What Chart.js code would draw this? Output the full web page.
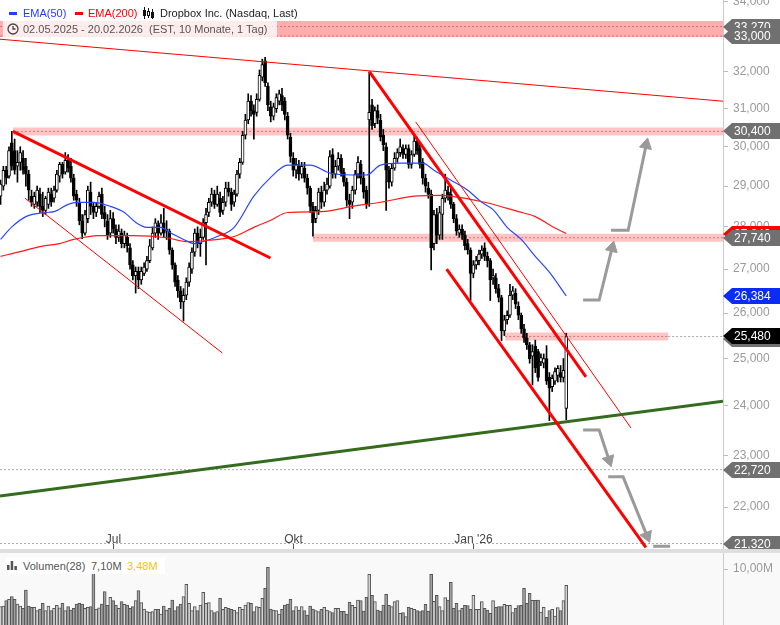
<!DOCTYPE html>
<html>
<head>
<meta charset="utf-8">
<script src="https://cdn.jsdelivr.net/npm/chart.js@4.4.1/dist/chart.umd.min.js"></script>
<style>
  html, body { margin: 0; padding: 0; background: #fff; }
  #wrap { position: relative; width: 780px; height: 625px; overflow: hidden; font-family: "Liberation Sans", Arial, sans-serif; }
  canvas { position: absolute; left: 0; }
  #main { top: 0; }
  #sep { position: absolute; left: 0; top: 549px; width: 780px; height: 4px; background: #dedede; }
  #vol { top: 553px; background: #f9f9f9; }
  .t { position: absolute; font-size: 11px; line-height: 14px; white-space: pre; }
  .dash { position: absolute; height: 3px; width: 8px; }
  #box2 { position: absolute; left: 3px; top: 21px; width: 274px; height: 16px; background: rgba(255,255,255,0.78); }
  #vbox { position: absolute; left: 5px; top: 557px; width: 160px; height: 17px; background: #fff; }
</style>
</head>
<body>
<div id="wrap">
  <canvas id="main" width="780" height="549"></canvas>
  <div id="sep"></div>
  <canvas id="vol" width="780" height="72"></canvas>

  <span class="dash" style="left:9px; top:12px; background:#1f3cff"></span>
  <span class="t" style="left:23px; top:6px; color:#1f3cff">EMA(50)</span>
  <span class="dash" style="left:75px; top:12px; background:#ff0000"></span>
  <span class="t" style="left:88px; top:6px; color:#ff0000">EMA(200)</span>
  <svg style="position:absolute; left:143px; top:7px" width="12" height="12" viewBox="0 0 12 12">
    <g stroke="#111" stroke-width="1" fill="#fff">
      <line x1="1.5" y1="0" x2="1.5" y2="12"/><rect x="0.5" y="3.5" width="2" height="5" fill="#111"/>
      <line x1="5.5" y1="1" x2="5.5" y2="11"/><rect x="4.5" y="4.5" width="2" height="4"/>
      <line x1="9.5" y1="2" x2="9.5" y2="12"/><rect x="8.5" y="5.5" width="2" height="5" fill="#111"/>
    </g>
  </svg>
  <span class="t" style="left:160px; top:6px; color:#222">Dropbox Inc. (Nasdaq, Last)</span>

  <div id="box2"></div>
  <svg style="position:absolute; left:7px; top:23px" width="12" height="12" viewBox="0 0 12 12">
    <circle cx="6" cy="6" r="5" fill="none" stroke="#444" stroke-width="1.3"/>
    <path d="M6 3 V6 H8.5" fill="none" stroke="#444" stroke-width="1.3"/>
  </svg>
  <span class="t" style="left:23px; top:22px; color:#555">02.05.2025 - 20.02.2026  (EST, 10 Monate, 1 Tag)</span>

  <div id="vbox"></div>
  <svg style="position:absolute; left:7px; top:560px" width="12" height="10" viewBox="0 0 12 10">
    <rect x="0" y="5" width="2.5" height="5" fill="#555"/>
    <rect x="3.7" y="1" width="2.5" height="9" fill="#555"/>
    <rect x="7.4" y="6" width="2.5" height="4" fill="#555"/>
  </svg>
  <span class="t" style="left:23px; top:559px; color:#555">Volumen(28)</span>
  <span class="t" style="left:91px; top:559px; color:#555">7,10M</span>
  <span class="t" style="left:127px; top:559px; color:#f5c400">3,48M</span>
</div>

<script>
// daily candles 02.05.2025 .. 20.02.2026 (USD)
const openP = [
  28.75, 29.0, 29.4, 29.25, 30.1, 29.9, 29.5, 29.6, 29.7, 29.5,
  29.3, 28.75, 28.55, 28.6, 28.8, 28.5, 28.4, 28.55, 28.8, 28.7,
  28.9, 29.25, 29.55, 29.35, 29.65, 29.5, 29.2, 28.8, 28.6, 28.15,
  27.85, 28.2, 28.85, 28.5, 28.35, 28.5, 28.8, 28.35, 28.15, 27.85,
  28.2, 27.95, 27.75, 27.85, 27.6, 27.75, 27.5, 27.1, 26.85, 26.95,
  26.75, 26.9, 27.0, 27.2, 27.5, 27.85, 28.05, 27.85, 28.1, 27.9,
  27.9, 27.45, 27.1, 26.75, 26.5, 26.25, 26.4, 26.7, 27.0, 27.4,
  27.85, 27.6, 27.75, 28.1, 28.35, 28.6, 28.8, 28.55, 28.7, 28.4,
  28.6, 28.95, 28.85, 28.6, 28.8, 29.3, 29.6, 30.3, 30.7, 31.2,
  30.95, 30.9, 31.25, 31.85, 32.3, 31.6, 31.05, 30.8, 31.0, 31.2,
  31.35, 31.2, 30.8, 30.25, 29.7, 29.4, 29.5, 29.3, 29.45, 29.2,
  28.95, 28.5, 28.2, 28.4, 28.85, 28.6, 28.9, 29.0, 29.8, 29.3,
  29.5, 29.7, 29.35, 29.1, 28.65, 28.6, 28.9, 29.3, 29.55, 29.2,
  28.9, 30.7, 31.1, 30.6, 30.95, 30.7, 30.3, 30.0, 29.4, 29.1,
  29.45, 29.7, 29.85, 29.95, 29.8, 29.95, 29.55, 29.8, 30.15, 29.95,
  29.6, 29.2, 28.95, 28.8, 27.6, 28.3, 27.8, 28.3, 28.7, 28.85,
  28.8, 28.55, 28.2, 27.85, 27.95, 27.8, 27.6, 27.45, 26.9, 27.1,
  27.2, 27.35, 27.5, 27.3, 27.2, 26.8, 26.8, 26.55, 26.35, 25.6,
  25.85, 25.95, 26.4, 26.45, 26.15, 25.95, 25.65, 25.45, 25.3, 25.05,
  25.27, 25.15, 24.93, 24.9, 25.0, 24.6, 24.4, 24.52, 24.64, 24.7,
  24.6, 23.95
];
const highP = [
  29.15, 29.5, 29.5, 30.0, 30.40, 30.2, 29.9, 30.0, 29.9, 29.7,
  29.4, 28.9, 28.85, 29.0, 28.95, 28.85, 28.75, 28.95, 28.95, 29.0,
  29.4, 29.6, 29.6, 29.85, 29.8, 29.7, 29.3, 28.9, 28.7, 28.3,
  28.4, 29.0, 29.1, 28.6, 28.6, 28.85, 28.95, 28.5, 28.3, 28.4,
  28.35, 28.05, 28.05, 27.95, 27.9, 27.85, 27.6, 27.2, 27.05, 27.05,
  27.05, 27.15, 27.3, 27.7, 28.0, 28.2, 28.15, 28.3, 28.45, 28.15,
  27.95, 27.5, 27.15, 26.85, 26.6, 26.55, 26.8, 27.15, 27.5, 27.95,
  28.0, 27.95, 28.2, 28.45, 28.7, 28.95, 28.9, 29.0, 28.85, 28.75,
  29.1, 29.1, 28.95, 28.9, 29.4, 29.7, 30.4, 30.85, 31.4, 31.35,
  31.1, 31.4, 32.05, 32.35, 32.4, 31.7, 31.2, 31.15, 31.4, 31.5,
  31.55, 31.3, 30.9, 30.35, 29.85, 29.7, 29.65, 29.6, 29.6, 29.3,
  29.0, 28.6, 28.5, 28.95, 29.0, 29.1, 29.2, 29.9, 29.95, 29.65,
  29.85, 29.8, 29.45, 29.2, 28.8, 29.0, 29.4, 29.75, 29.65, 29.35,
  29.0, 32.0, 31.25, 31.05, 31.1, 30.85, 30.45, 30.1, 29.5, 29.55,
  29.85, 29.95, 30.2, 30.05, 30.05, 30.05, 29.9, 30.3, 30.25, 30.05,
  29.7, 29.3, 29.1, 28.9, 28.4, 28.45, 28.5, 28.8, 29.3, 29.0,
  28.95, 28.6, 28.3, 28.05, 28.05, 27.9, 27.7, 27.5, 27.2, 27.3,
  27.45, 27.55, 27.62, 27.4, 27.25, 27.0, 26.9, 26.65, 26.4, 25.95,
  26.05, 26.65, 26.6, 26.55, 26.25, 26.0, 25.75, 25.55, 25.35, 25.3,
  25.4, 25.2, 25.1, 25.1, 25.28, 24.7, 24.65, 24.8, 24.85, 24.85,
  25.0, 25.55
];
const lowP = [
  28.55, 28.9, 29.05, 29.2, 29.4, 29.3, 29.1, 29.4, 29.3, 29.0,
  28.65, 28.5, 28.45, 28.5, 28.35, 28.25, 28.3, 28.45, 28.5, 28.6,
  28.85, 29.1, 29.2, 29.3, 29.35, 29.1, 28.65, 28.5, 28.05, 27.72,
  27.8, 28.1, 28.3, 28.2, 28.25, 28.45, 28.2, 28.0, 27.7, 27.75,
  27.85, 27.6, 27.65, 27.5, 27.5, 27.4, 27.0, 26.75, 26.45, 26.55,
  26.65, 26.85, 26.95, 27.15, 27.45, 27.75, 27.7, 27.8, 27.75, 27.7,
  27.35, 27.0, 26.6, 26.35, 26.1, 25.82, 26.3, 26.6, 26.9, 27.3,
  27.5, 27.3, 27.7, 27.1, 28.25, 28.5, 28.45, 28.5, 28.25, 28.3,
  28.5, 28.75, 28.4, 28.5, 28.75, 29.2, 29.55, 30.2, 30.6, 30.8,
  30.2, 30.8, 31.2, 31.75, 31.6, 30.95, 30.65, 30.7, 30.9, 31.1,
  30.95, 30.7, 30.2, 29.6, 29.25, 29.2, 29.15, 29.2, 29.1, 28.8,
  28.35, 27.78, 28.1, 28.3, 28.45, 28.5, 28.8, 28.95, 29.2, 29.2,
  29.4, 29.25, 29.0, 28.5, 28.2, 28.45, 28.8, 29.2, 29.05, 28.7,
  28.45, 28.5, 30.45, 30.5, 30.6, 30.15, 29.9, 28.4, 28.95, 29.0,
  29.4, 29.6, 29.75, 29.7, 29.7, 29.45, 29.45, 29.75, 29.8, 29.45,
  29.05, 28.85, 28.7, 26.98, 27.45, 27.6, 27.7, 27.7, 28.6, 28.65,
  28.45, 28.1, 27.8, 27.75, 27.7, 27.45, 27.35, 26.28, 26.8, 27.0,
  27.1, 27.25, 27.2, 27.05, 26.28, 26.65, 26.45, 26.25, 25.39, 25.5,
  25.75, 25.9, 26.3, 26.1, 25.85, 25.55, 25.35, 25.2, 24.9, 24.44,
  24.7, 24.52, 24.85, 24.8, 24.45, 23.7, 24.3, 24.45, 24.5, 24.5,
  24.5, 23.72
];
const closeP = [
  29.05, 29.4, 29.2, 29.9, 29.5, 29.4, 29.6, 29.85, 29.4, 29.3,
  28.9, 28.6, 28.75, 28.9, 28.5, 28.4, 28.7, 28.85, 28.6, 28.9,
  29.3, 29.55, 29.3, 29.65, 29.45, 29.2, 28.75, 28.65, 28.15, 27.85,
  28.3, 28.9, 28.5, 28.35, 28.5, 28.75, 28.3, 28.2, 27.8, 28.2,
  27.95, 27.75, 27.9, 27.6, 27.8, 27.55, 27.1, 26.85, 26.95, 26.75,
  26.95, 27.05, 27.2, 27.55, 27.85, 28.1, 27.85, 28.1, 27.85, 27.95,
  27.45, 27.1, 26.7, 26.5, 26.25, 26.4, 26.7, 27.05, 27.4, 27.85,
  27.6, 27.75, 28.1, 28.3, 28.6, 28.8, 28.55, 28.8, 28.35, 28.6,
  28.95, 28.85, 28.55, 28.8, 29.3, 29.6, 30.3, 30.7, 31.2, 30.95,
  30.85, 31.25, 31.9, 32.2, 31.7, 31.1, 30.8, 31.05, 31.3, 31.4,
  31.1, 30.85, 30.3, 29.75, 29.4, 29.55, 29.3, 29.5, 29.2, 28.95,
  28.5, 28.1, 28.4, 28.85, 28.6, 28.9, 29.05, 29.75, 29.3, 29.5,
  29.7, 29.35, 29.1, 28.65, 28.55, 28.9, 29.3, 29.6, 29.2, 28.85,
  28.55, 30.9, 30.55, 30.95, 30.75, 30.25, 30.05, 29.4, 29.1, 29.45,
  29.7, 29.85, 30.0, 29.8, 29.95, 29.55, 29.8, 30.15, 29.9, 29.55,
  29.2, 29.0, 28.8, 27.5, 28.3, 27.8, 28.35, 28.7, 28.9, 28.75,
  28.55, 28.2, 27.9, 27.95, 27.8, 27.55, 27.45, 26.9, 27.1, 27.2,
  27.35, 27.45, 27.3, 27.2, 26.75, 26.85, 26.55, 26.35, 25.6, 25.85,
  25.95, 26.4, 26.5, 26.2, 25.95, 25.65, 25.45, 25.3, 25.0, 25.15,
  24.8, 24.6, 25.02, 25.0, 24.52, 24.37, 24.58, 24.72, 24.79, 24.6,
  24.75, 25.48
];
// volume in millions
const volumeM = [
  3.29, 3.40, 4.35, 4.59, 5.07, 4.59, 3.76, 3.40, 2.99, 6.26,
  3.40, 3.17, 3.17, 2.56, 2.87, 3.88, 2.56, 3.40, 2.56, 2.99,
  3.52, 3.05, 3.88, 2.56, 3.29, 2.68, 2.99, 3.76, 3.88, 3.76,
  2.99, 3.17, 3.29, 9.24, 2.87, 3.05, 3.76, 5.96, 3.52, 4.95,
  4.35, 3.58, 2.99, 4.17, 3.70, 3.58, 2.99, 3.29, 4.35, 6.14,
  3.99, 2.87, 2.38, 2.33, 2.38, 2.81, 2.81, 1.97, 3.40, 2.68,
  2.99, 4.47, 2.56, 3.29, 3.76, 5.07, 7.27, 3.88, 2.56, 3.29,
  2.56, 3.58, 5.84, 3.88, 3.99, 2.56, 2.21, 2.38, 4.77, 2.81,
  3.17, 2.99, 2.81, 2.68, 2.21, 3.17, 2.81, 3.58, 3.99, 3.88,
  2.38, 3.29, 3.17, 4.77, 6.56, 10.32, 2.87, 2.68, 2.56, 1.97,
  2.81, 3.58, 3.76, 4.59, 2.56, 3.29, 2.68,
  3.29, 2.56, 1.79, 3.40, 2.87, 2.56, 2.38, 2.81, 3.17, 2.68,
  2.38, 2.21, 2.99, 2.99, 2.44, 2.44, 1.97, 4.11, 3.52, 3.17,
  4.47, 4.35, 2.50, 4.95, 9.06, 5.30, 4.17, 2.68, 2.50, 3.58,
  5.48, 3.52, 3.29, 4.17, 4.35, 2.09, 2.21, 1.49, 3.17, 2.99,
  2.81, 2.56, 2.38, 2.56, 3.70, 2.50, 9.06, 4.23, 5.30, 3.29,
  2.56, 4.89, 4.47, 7.63, 2.99, 3.88, 2.56, 2.99, 3.52, 3.46,
  2.81, 5.30, 2.81, 2.81, 4.17, 2.99, 2.68, 2.09, 4.35, 3.17,
  3.29, 3.29, 3.70, 3.52, 3.52, 2.21, 2.99, 3.46, 3.52, 6.56,
  3.88, 5.66, 4.41, 4.41, 4.47, 2.33, 3.17, 1.37, 2.56, 2.81,
  1.61, 3.11, 2.56, 4.35, 7.10
];

// EMA readings (bar index, value)
const ema50Idx = [0, 4, 9, 16, 19, 24, 27, 33, 39, 44, 48, 52, 57, 60, 65, 69, 72, 77, 83, 90, 96, 102, 110, 117, 125, 130, 135, 142, 150, 154, 160, 166, 171, 175, 180, 185, 190, 195, 201];
const ema50 = [27.70, 28.00, 28.25, 28.35, 28.37, 28.55, 28.60, 28.60, 28.50, 28.35, 28.11, 27.99, 27.99, 27.87, 27.70, 27.60, 27.65, 27.77, 27.99, 28.75, 29.22, 29.53, 29.53, 29.33, 29.28, 29.28, 29.53, 29.58, 29.58, 29.40, 29.15, 28.90, 28.60, 28.42, 27.99, 27.70, 27.30, 26.93, 26.384];
const ema200Idx = [0, 7, 14, 21, 26, 35, 47, 59, 66, 74, 83, 90, 96, 102, 114, 125, 135, 147, 156, 160, 172, 184, 190, 196, 201];
const ema200 = [27.30, 27.41, 27.53, 27.60, 27.70, 27.79, 27.79, 27.74, 27.65, 27.68, 27.77, 27.99, 28.16, 28.35, 28.37, 28.50, 28.60, 28.75, 28.77, 28.75, 28.60, 28.37, 28.25, 28.01, 27.84];

// drawn lines: [x1, price1, x2, price2]
const trendThick = [[4.4, 30.40, 95.9, 27.26], [131.1, 32.0, 208.0, 24.61], [158.5, 27.0, 229.3, 21.25]];
const trendThin = [[8.7, 28.7, 78.8, 25.12], [147.5, 30.65, 224.0, 23.55], [-0.2, 32.91, 256.7, 31.2]];
const supportLine = [-0.2, 22.21, 256.7, 24.10];

// zones: level, from, to
const zoneLevels = [30.40, 27.74, 25.48];
const zoneFrom = [4.4, 111, 179.3];
const zoneTo = [256.7, 256.7, 237.2];
const topZone = [33.27, 33.00];
const grayLevels = [22.72, 21.32];

const arrowPaths = [
  [[207.0, 26.29], [212.7, 26.29], [217.3, 27.50]],
  [[216.9, 27.92], [223.0, 27.92], [229.4, 30.05]],
  [[207.0, 23.51], [212.7, 23.51], [216.2, 22.91]],
  [[215.9, 22.58], [221.2, 22.58], [229.7, 21.46]]
];
const arrowStub = [231.9, 21.27, 237.9, 21.27];

const yTicks = [22, 23, 24, 25, 26, 27, 28, 29, 30, 31, 32, 33, 34];
const tagValues = [33.27, 33.00, 30.40, 27.84, 27.74, 26.384, 25.48, 22.72, 21.32];
const monthIdx = [40, 104, 168];
const monthLabels = ['Jul', 'Okt', "Jan '26"];

const family = '"Liberation Sans", Arial, sans-serif';
const fmt = v => v.toFixed(3).replace('.', ',');
const seg = a => [{ x: a[0], y: a[1] }, { x: a[2], y: a[3] }];
const days = closeP.map((_, i) => i);
const up = days.map(i => closeP[i] >= openP[i]);
const X_MIN = -0.2, X_MAX = 256.7;

function lineDs(data, color, width, order, extra) {
  return Object.assign({ type: 'line', data, borderColor: color, borderWidth: width, pointRadius: 0, tension: 0, order, borderCapStyle: 'butt', fill: false }, extra || {});
}

const datasets = [];
// zones
datasets.push(lineDs(seg([X_MIN, 33.2, X_MAX, 33.2]), 'rgba(255,60,60,0.42)', 16, 30));
zoneLevels.forEach((lv, k) => {
  datasets.push(lineDs(seg([zoneFrom[k], lv, zoneTo[k], lv]), 'rgba(255,60,60,0.3)', 8, 30));
});
topZone.forEach(lv => datasets.push(lineDs(seg([X_MIN, lv, X_MAX, lv]), 'rgba(190,90,90,0.7)', 1, 29, { borderDash: [2, 2] })));
zoneLevels.forEach((lv, k) => datasets.push(lineDs(seg([zoneFrom[k], lv, zoneTo[k], lv]), 'rgba(190,90,90,0.7)', 1, 29, { borderDash: [2, 2] })));
datasets.push(lineDs(seg([zoneTo[2], zoneLevels[2], X_MAX, zoneLevels[2]]), '#aaa', 1, 29, { borderDash: [2, 2] }));
grayLevels.forEach(lv => datasets.push(lineDs(seg([X_MIN, lv, X_MAX, lv]), '#aaa', 1, 29, { borderDash: [2, 2] })));

// candles
datasets.push({
  type: 'bar', data: days.map(i => ({ x: i, y: [lowP[i], highP[i]] })),
  backgroundColor: '#000', barThickness: 1, grouped: false, order: 20
});
datasets.push({
  type: 'bar', data: days.map(i => ({ x: i, y: [openP[i], closeP[i]] })),
  backgroundColor: days.map(i => up[i] ? '#fff' : '#000'),
  borderColor: '#000', borderWidth: 1, borderSkipped: false, minBarLength: 1,
  barThickness: 3, grouped: false, order: 19
});

// EMAs
datasets.push(lineDs(ema200Idx.map((x, k) => ({ x, y: ema200[k] })), '#ff1a1a', 1.2, 10, { cubicInterpolationMode: 'monotone' }));
datasets.push(lineDs(ema50Idx.map((x, k) => ({ x, y: ema50[k] })), '#2846ff', 1.2, 10, { cubicInterpolationMode: 'monotone' }));

// trend lines
trendThin.forEach(t => datasets.push(lineDs(seg(t), '#ff0000', 1, 8)));
trendThick.forEach(t => datasets.push(lineDs(seg(t), '#ff0000', 3, 7)));
datasets.push(lineDs(seg(supportLine), '#356b1c', 3, 7));

// projection arrows
const arrowRotation = ctx => {
  const d = ctx.dataset.data, n = d.length;
  if (ctx.dataIndex !== n - 1) return 0;
  const xs = ctx.chart.scales.x, ys = ctx.chart.scales.y;
  const dx = xs.getPixelForValue(d[n - 1].x) - xs.getPixelForValue(d[n - 2].x);
  const dy = ys.getPixelForValue(d[n - 1].y) - ys.getPixelForValue(d[n - 2].y);
  return Math.atan2(dx, -dy) * 180 / Math.PI;
};
arrowPaths.forEach(p => {
  datasets.push(lineDs(p.map(q => ({ x: q[0], y: q[1] })), '#9a9a9a', 3, 5, {
    pointStyle: 'triangle', pointRadius: [0, 0, 7], pointBackgroundColor: '#9a9a9a',
    pointBorderColor: '#9a9a9a', pointBorderWidth: 1, pointRotation: arrowRotation,
    borderJoinStyle: 'miter'
  }));
});
datasets.push(lineDs(seg(arrowStub), '#9a9a9a', 3, 5));

const tagStyle = [
  '#707070', '#707070', '#707070', '#ff0000', '#707070', '#0a2cf5', '#000000', '#707070', '#707070'
];

function drawTag(ctx, x0, py, fill, text) {
  ctx.fillStyle = fill;
  ctx.beginPath();
  ctx.moveTo(x0, py);
  ctx.lineTo(x0 + 9, py - 8);
  ctx.lineTo(780, py - 8);
  ctx.lineTo(780, py + 8);
  ctx.lineTo(x0 + 9, py + 8);
  ctx.closePath();
  ctx.fill();
  ctx.fillStyle = '#fff';
  ctx.font = '12px ' + family;
  ctx.textBaseline = 'middle';
  ctx.textAlign = 'left';
  ctx.fillText(text, x0 + 11, py + 1);
}

const overlay = {
  id: 'overlay',
  afterDraw(chart) {
    const { ctx, chartArea } = chart;
    const xs = chart.scales.x, ys = chart.scales.y;
    ctx.save();
    // month labels
    ctx.font = '12px ' + family;
    ctx.fillStyle = '#444';
    ctx.textAlign = 'center';
    ctx.textBaseline = 'alphabetic';
    ctx.strokeStyle = '#555';
    ctx.lineWidth = 1;
    monthIdx.forEach((m, k) => {
      const px = Math.round(xs.getPixelForValue(m)) + 0.5;
      ctx.fillText(monthLabels[k], px, chartArea.bottom - 6);
      ctx.beginPath();
      ctx.moveTo(px, chartArea.bottom - 5);
      ctx.lineTo(px, chartArea.bottom);
      ctx.stroke();
    });
    // price tags
    tagValues.forEach((v, k) => {
      const py = Math.round(ys.getPixelForValue(v));
      if (k === 6) drawTag(ctx, chartArea.right, py + 3, '#707070', '');
      drawTag(ctx, chartArea.right, py, tagStyle[k], fmt(v));
    });
    ctx.restore();
  }
};

const axisFit = s => { s.width = 57; s.paddingTop = 0; s.paddingBottom = 0; };

new Chart(document.getElementById('main'), {
  type: 'bar',
  data: { datasets },
  options: {
    responsive: false, animation: false, devicePixelRatio: 1,
    layout: { padding: 0, autoPadding: false },
    plugins: { legend: { display: false }, tooltip: { enabled: false } },
    scales: {
      x: { type: 'linear', min: X_MIN, max: X_MAX, offset: false, display: false },
      y: {
        type: 'logarithmic', position: 'right', min: 21.22, max: 34.04,
        afterBuildTicks: s => { s.ticks = yTicks.map(v => ({ value: v })); },
        afterFit: axisFit,
        ticks: { callback: v => fmt(v), color: '#9a9a9a', font: { size: 12, family }, padding: 5, autoSkip: false },
        grid: { drawOnChartArea: false, drawTicks: true, tickLength: 5, color: '#bbb' },
        border: { display: true, color: '#ccc' }
      }
    }
  },
  plugins: [overlay]
});

new Chart(document.getElementById('vol'), {
  type: 'bar',
  data: {
    datasets: [{
      data: days.map(i => ({ x: i, y: volumeM[i] })),
      backgroundColor: days.map(i => up[i] ? '#d2d2d2' : '#a0a0a0'),
      borderColor: '#555', borderWidth: 1, borderSkipped: 'bottom',
      barThickness: 3, grouped: false
    }]
  },
  options: {
    responsive: false, animation: false, devicePixelRatio: 1,
    layout: { padding: 0, autoPadding: false },
    plugins: { legend: { display: false }, tooltip: { enabled: false } },
    scales: {
      x: { type: 'linear', min: X_MIN, max: X_MAX, offset: false, display: false },
      y: {
        type: 'linear', position: 'right', min: 0, max: 12.88,
        afterBuildTicks: s => { s.ticks = [{ value: 10 }]; },
        afterFit: axisFit,
        ticks: { callback: v => v.toFixed(2).replace('.', ',') + 'M', color: '#9a9a9a', font: { size: 12, family }, padding: 5 },
        grid: { drawOnChartArea: false, drawTicks: true, tickLength: 5, color: '#bbb' },
        border: { display: true, color: '#ccc' }
      }
    }
  }
});
</script>
</body>
</html>
